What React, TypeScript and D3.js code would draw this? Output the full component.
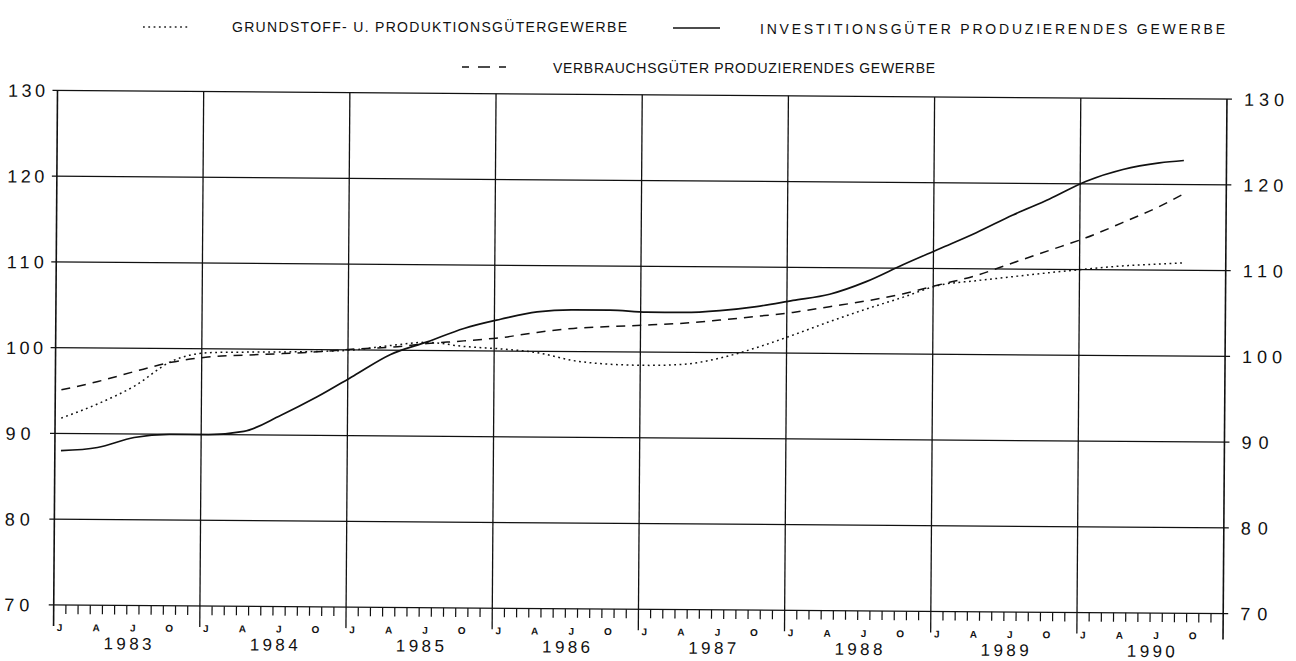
import React from "react";
import * as d3 from "d3";

// ---- data (quarterly readings, mid-month) ----
const periods = [
  "1983-01", "1983-04", "1983-07", "1983-10",
  "1984-01", "1984-04", "1984-07", "1984-10",
  "1985-01", "1985-04", "1985-07", "1985-10",
  "1986-01", "1986-04", "1986-07", "1986-10",
  "1987-01", "1987-04", "1987-07", "1987-10",
  "1988-01", "1988-04", "1988-07", "1988-10",
  "1989-01", "1989-04", "1989-07", "1989-10",
  "1990-01", "1990-04", "1990-07", "1990-09",
];

const grundstoff = [
  91.8, 93.5, 95.6, 98.5,
  99.55, 99.65, 99.7, 99.8,
  100.0, 100.55, 100.95, 100.5,
  100.25, 99.85, 98.95, 98.55,
  98.45, 98.6, 99.35, 100.6,
  102.1, 103.7, 105.2, 106.6,
  108.05, 108.6, 109.1, 109.6,
  110.05, 110.45, 110.7, 110.85,
];

const investition = [
  88.0, 88.4, 89.6, 90.0,
  90.0, 90.4, 92.3, 94.5,
  97.0, 99.5, 101.0, 102.6,
  103.7, 104.6, 104.85, 104.85,
  104.65, 104.65, 104.9, 105.4,
  106.15, 106.9, 108.4, 110.4,
  112.3, 114.2, 116.3, 118.2,
  120.3, 121.7, 122.5, 122.8,
];

const verbrauch = [
  95.1, 96.1, 97.3, 98.4,
  99.05, 99.3, 99.5, 99.75,
  100.1, 100.35, 100.8, 101.15,
  101.55, 102.2, 102.7, 102.95,
  103.15, 103.4, 103.8, 104.25,
  104.75, 105.45, 106.15, 107.0,
  108.1, 109.2, 110.7, 112.2,
  113.7, 115.5, 117.4, 118.9,
];

const yTicks = [70, 80, 90, 100, 110, 120, 130];
const years = [1983, 1984, 1985, 1986, 1987, 1988, 1989, 1990];
const monthLabels = ["J", "A", "J", "O"];
const monthLabelIdx = [0, 3, 6, 9];

const legendTexts = [
  "GRUNDSTOFF- U. PRODUKTIONSGÜTERGEWERBE",
  "INVESTITIONSGÜTER PRODUZIERENDES GEWERBE",
  "VERBRAUCHSGÜTER PRODUZIERENDES GEWERBE",
];

const FONT = "'Liberation Sans', 'DejaVu Sans', sans-serif";

function monthIndex(p: string) {
  const [y, m] = p.split("-").map(Number);
  return (y - 1983) * 12 + (m - 1) + 0.5;
}

export default function App() {
  const W = 1296, H = 661;
  const left = 57.5, right = 1227, top = 90.5, bottom = 605;
  const x = d3.scaleLinear().domain([0, 96]).range([left, right]);
  const y = d3.scaleLinear().domain([70, 130]).range([bottom, top]);

  const line = d3
    .line<number>()
    .x((_, i) => x(monthIndex(periods[i])))
    .y((d) => y(d))
    .curve(d3.curveMonotoneX);

  const months = d3.range(0, 97);

  return (
    <svg
      width={W}
      height={H}
      style={{ position: "absolute", left: 0, top: 0, background: "#fff" }}
    >
      <rect width={W} height={H} fill="#fff" />
      {/* legend */}
      <g fontFamily={FONT} fontSize={14} fill="#111">
        <line x1={143} x2={190} y1={27} y2={27} stroke="#222" strokeWidth={1.3} strokeDasharray="1.8,3.5" />
        <text x={232} y={32} textLength={395} lengthAdjust="spacing">{legendTexts[0]}</text>
        <line x1={673} x2={720} y1={28} y2={28} stroke="#111" strokeWidth={1.6} />
        <text x={760} y={34} textLength={465} lengthAdjust="spacing">{legendTexts[1]}</text>
        <line x1={462} x2={510} y1={67} y2={67} stroke="#111" strokeWidth={1.4} strokeDasharray="7,9,12,9" />
        <text x={553} y={73} textLength={382} lengthAdjust="spacing">{legendTexts[2]}</text>
      </g>

      <g transform={`rotate(0.42, ${left}, ${top})`}>
        {/* horizontal grid */}
        {yTicks.map((t) => (
          <g key={t}>
            <line x1={left - 5} x2={right + 5} y1={y(t)} y2={y(t)} stroke="#111" strokeWidth={1.3} />
            <text x={8} y={y(t) + 6.5} fontFamily={FONT} fontSize={18} textLength={t >= 100 ? 37 : 25} lengthAdjust="spacing" fill="#111">{t}</text>
            <text x={1244} y={y(t) + 6.5} fontFamily={FONT} fontSize={18} textLength={t >= 100 ? 40 : 27} lengthAdjust="spacing" fill="#111">{t}</text>
          </g>
        ))}
        {/* axes and year lines */}
        {d3.range(0, 9).map((k) => (
          <line key={k} x1={x(k * 12)} x2={x(k * 12)} y1={top} y2={k === 8 ? bottom + 26 : bottom + 21} stroke="#111" strokeWidth={k === 0 || k === 8 ? 1.6 : 1.3} />
        ))}
        {/* month ticks */}
        {months.filter((m) => m % 12 !== 0).map((m) => (
          <line key={m} x1={x(m)} x2={x(m)} y1={bottom} y2={bottom + 9} stroke="#111" strokeWidth={1.2} />
        ))}
        {/* month labels */}
        {years.map((yr, k) =>
          monthLabelIdx.map((mi, j) => (
            <text key={`${yr}-${j}`} x={x(k * 12 + mi + 0.5)} y={bottom + 26} textAnchor="middle" fontFamily={FONT} fontSize={10} fontWeight="bold" fill="#111">
              {monthLabels[j]}
            </text>
          ))
        )}
        {/* year labels */}
        {years.map((yr, k) => (
          <text key={yr} x={x(k * 12 + 6) - 23} y={bottom + 44} fontFamily={FONT} fontSize={17} textLength={48} lengthAdjust="spacing" fill="#111">
            {yr}
          </text>
        ))}

        {/* series */}
        <path d={line(grundstoff) || ""} fill="none" stroke="#111" strokeWidth={1.5} strokeDasharray="1.8,3.5" />
        <path d={line(verbrauch) || ""} fill="none" stroke="#111" strokeWidth={1.5} strokeDasharray="9,7" />
        <path d={line(investition) || ""} fill="none" stroke="#111" strokeWidth={1.7} />
      </g>
    </svg>
  );
}
